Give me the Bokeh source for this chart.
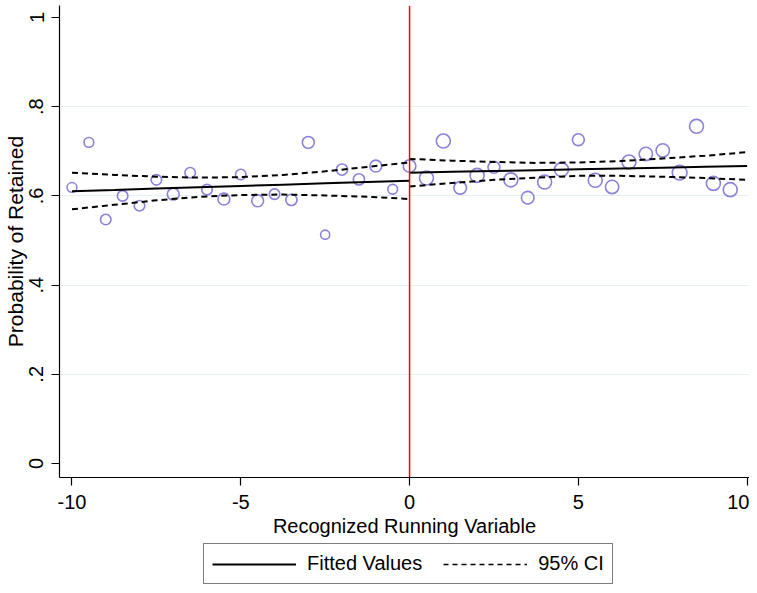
from bokeh.plotting import figure
from bokeh.models import Range1d, FixedTicker, Legend, LegendItem, Span, ColumnDataSource
from bokeh.layouts import column
from bokeh.embed import file_html
from bokeh.resources import INLINE
import math

# ---- data ----
run_var = [-10, -9.5, -9, -8.5, -8, -7.5, -7, -6.5, -6, -5.5, -5, -4.5, -4, -3.5, -3, -2.5, -2, -1.5, -1, -0.5,
           0, 0.5, 1, 1.5, 2, 2.5, 3, 3.5, 4, 4.5, 5, 5.5, 6, 6.5, 7, 7.5, 8, 8.5, 9, 9.5]
retained = [0.619, 0.720, 0.547, 0.600, 0.578, 0.636, 0.604, 0.652, 0.614, 0.593,
            0.648, 0.589, 0.604, 0.591, 0.720, 0.513, 0.659, 0.637, 0.667, 0.615,
            0.667, 0.640, 0.723, 0.618, 0.646, 0.664, 0.636, 0.596, 0.631, 0.659,
            0.726, 0.635, 0.620, 0.676, 0.694, 0.702, 0.652, 0.756, 0.628, 0.614]
bin_count = [86, 86, 100, 100, 100, 100, 128, 100, 100, 128,
             100, 128, 100, 114, 128, 76, 114, 114, 128, 86,
             144, 177, 177, 144, 177, 128, 177, 144, 177, 177,
             128, 177, 161, 177, 161, 161, 196, 177, 177, 177]

fit_x_left = [-10, -8.75, -7.5, -6.25, -5, -3.75, -2.5, -1.25, 0]
fit_left = [0.6106, 0.6135, 0.6165, 0.6194, 0.6223, 0.6252, 0.6282, 0.6311, 0.634]
ci_up_left = [0.652, 0.647, 0.643, 0.641, 0.642, 0.647, 0.655, 0.665, 0.675]
ci_lo_left = [0.570, 0.580, 0.590, 0.598, 0.602, 0.603, 0.601, 0.598, 0.593]

fit_x_right = [0, 1.25, 2.5, 3.75, 5, 6.25, 7.5, 8.75, 10]
fit_right = [0.652, 0.6539, 0.6558, 0.6576, 0.6595, 0.6614, 0.6633, 0.6651, 0.667]
ci_up_right = [0.683, 0.679, 0.676, 0.674, 0.675, 0.678, 0.684, 0.690, 0.698]
ci_lo_right = [0.621, 0.629, 0.636, 0.641, 0.645, 0.645, 0.643, 0.640, 0.636]

x_ticks = [-10, -5, 0, 5, 10]
x_tick_labels = ["-10", "-5", "0", "5", "10"]
y_ticks = [0, 0.2, 0.4, 0.6, 0.8, 1]
y_tick_labels = ["0", ".2", ".4", ".6", ".8", "1"]
cutoff = 0
legend_labels = ["Fitted Values", "95% CI"]

FONT = "Liberation Sans"
W = 749

p = figure(width=W, height=540, output_backend="svg", toolbar_location=None,
           x_range=Range1d(-10.37, 10.07), y_range=Range1d(-0.0314, 1.0269),
           min_border_left=59, min_border_right=0, min_border_top=5, min_border_bottom=63)
p.outline_line_color = None
p.background_fill_color = "white"
p.border_fill_color = "white"

src = ColumnDataSource(dict(x=run_var, y=retained, s=[math.sqrt(c) * 1.05 for c in bin_count]))
p.scatter("x", "y", size="s", source=src, marker="circle", fill_color=None,
          line_color="#8a82da", line_width=1.6)

p.line(fit_x_left, fit_left, line_color="black", line_width=2)
p.line(fit_x_right, fit_right, line_color="black", line_width=2)
for xs, ys in ((fit_x_left, ci_up_left), (fit_x_left, ci_lo_left),
               (fit_x_right, ci_up_right), (fit_x_right, ci_lo_right)):
    p.line(xs, ys, line_color="black", line_width=2, line_dash="6 4")

p.add_layout(Span(location=cutoff, dimension="height", line_color="red", line_width=1.5))

for ax in (p.xaxis[0], p.yaxis[0]):
    ax.axis_line_color = "black"
    ax.axis_line_width = 1.2
    ax.major_tick_line_color = "black"
    ax.major_tick_line_width = 1.2
    ax.major_tick_out = 8
    ax.major_tick_in = 0
    ax.minor_tick_line_color = None
    ax.major_label_text_font = FONT
    ax.major_label_text_font_size = "20px"
    ax.major_label_text_color = "black"
    ax.axis_label_text_font = FONT
    ax.axis_label_text_font_style = "normal"
    ax.axis_label_text_color = "black"

p.xaxis.ticker = FixedTicker(ticks=x_ticks)
p.xaxis.major_label_overrides = {t: l for t, l in zip(x_ticks, x_tick_labels)}
p.xaxis.axis_label = "Recognized Running Variable"
p.xaxis.axis_label_text_font_size = "20px"
p.xaxis.major_label_standoff = 9
p.xaxis.axis_label_standoff = 3

p.yaxis.ticker = FixedTicker(ticks=y_ticks)
p.yaxis.major_label_overrides = {t: l for t, l in zip(y_ticks, y_tick_labels)}
p.yaxis.major_label_orientation = "vertical"
p.yaxis.axis_label = "Probability of Retained"
p.yaxis.axis_label_text_font_size = "21px"
p.yaxis.major_label_standoff = 8
p.yaxis.axis_label_standoff = 0

p.xgrid.grid_line_color = None
p.ygrid.ticker = FixedTicker(ticks=[0.2, 0.4, 0.6, 0.8])
p.ygrid.grid_line_color = "#e6eff1"
p.ygrid.grid_line_width = 1

# ---- legend strip (sample lines sit outside the strip's visible range) ----
p2 = figure(width=W, height=45, output_backend="svg", toolbar_location=None,
            x_range=Range1d(0, 1), y_range=Range1d(0, 1), min_border=0)
p2.outline_line_color = None
p2.axis.visible = False
p2.grid.grid_line_color = None
r_fit = p2.line([5, 6], [5, 5], line_color="black", line_width=2)
r_ci = p2.line([5, 6], [5, 5], line_color="black", line_width=1.5, line_dash="5 4")
legend = Legend(items=[LegendItem(label=legend_labels[0], renderers=[r_fit]),
                       LegendItem(label=legend_labels[1], renderers=[r_ci])],
                orientation="horizontal", location=(144, 1),
                border_line_color="black", border_line_width=1.2,
                background_fill_color="white", background_fill_alpha=1,
                label_text_font=FONT, label_text_font_size="20px", label_text_color="black",
                glyph_width=84, glyph_height=20, label_standoff=11, spacing=21,
                padding=8, margin=0, click_policy="none")
p2.add_layout(legend, "center")

layout = column(p, p2, spacing=0)
open("out.html", "w").write(file_html(layout, INLINE))
